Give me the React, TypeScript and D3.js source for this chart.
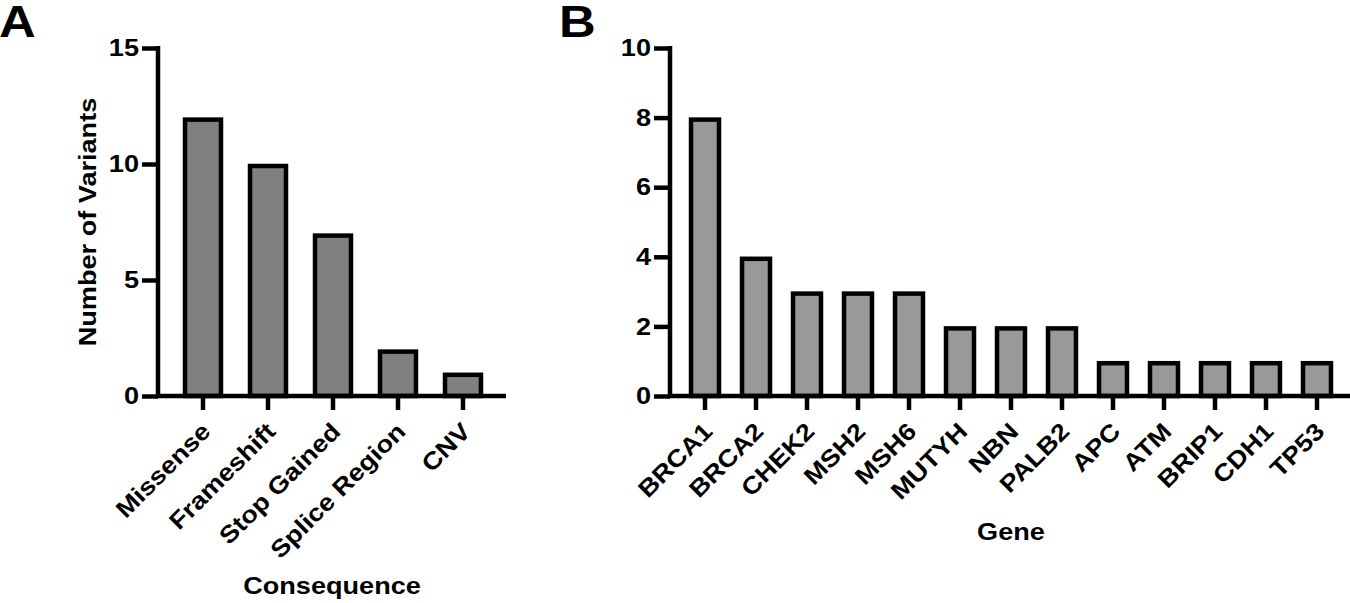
import { useEffect, useRef } from "react";
import * as d3 from "d3";

const consequences = ["Missense", "Frameshift", "Stop Gained", "Splice Region", "CNV"];
const consequenceCounts = [12, 10, 7, 2, 1];

const genes = ["BRCA1", "BRCA2", "CHEK2", "MSH2", "MSH6", "MUTYH", "NBN", "PALB2", "APC", "ATM", "BRIP1", "CDH1", "TP53"];
const geneCounts = [8, 4, 3, 3, 3, 2, 2, 2, 1, 1, 1, 1, 1];

const yTicksA = [0, 5, 10, 15];
const yTicksB = [0, 2, 4, 6, 8, 10];

const FONT = "'Liberation Sans', Arial, Helvetica, sans-serif";
// the original type is a little wider than Arial
const STRETCH = "scale(1.13,1)";

export default function App() {
  const svgRef = useRef<SVGSVGElement>(null);

  useEffect(() => {
    document.body.style.margin = "0";
    if (!svgRef.current) return;
    const svg = d3.select(svgRef.current);
    svg.selectAll("*").remove();

    const top = 48;
    const bottom = 396;

    const drawPanel = (
      labels: string[],
      values: number[],
      yMax: number,
      yTicks: number[],
      x0: number,
      x1: number,
      axisEnd: number,
      pad: number,
      fill: string,
      letter: string,
      letterX: number,
      xTitle: string,
      xTitleX: number,
      xTitleY: number,
      yTitle?: string
    ) => {
      const g = svg.append("g");
      const x = d3.scaleBand<string>().domain(labels).range([x0, x1]).paddingInner(pad).paddingOuter(pad);
      const y = d3.scaleLinear().domain([0, yMax]).range([bottom, top]);

      // bars
      g.selectAll("rect.bar")
        .data(labels)
        .join("rect")
        .attr("class", "bar")
        .attr("x", d => x(d)! + 2)
        .attr("width", x.bandwidth() - 4)
        .attr("y", (d, i) => y(values[i]) + 2)
        .attr("height", (d, i) => y(0) - y(values[i]) - 2)
        .attr("fill", fill)
        .attr("stroke", "#000")
        .attr("stroke-width", 4.5);

      // y axis
      const ya = g.append("g")
        .attr("transform", `translate(${x0},0)`)
        .call(d3.axisLeft(y).tickValues(yTicks).tickSize(16).tickPadding(4).tickSizeOuter(0));
      ya.select(".domain").attr("stroke-width", 4.5).attr("d", `M0,${top - 2}V${bottom}`);
      ya.selectAll(".tick line").attr("stroke-width", 4.5);
      ya.selectAll(".tick text")
        .attr("font-family", FONT)
        .attr("font-weight", "bold")
        .attr("font-size", 24)
        .attr("fill", "#000")
        .attr("x", 0)
        .attr("transform", `translate(-19,0) ${STRETCH}`);

      // x axis
      const xa = g.append("g")
        .attr("transform", `translate(0,${bottom})`)
        .call(d3.axisBottom(x).tickSize(14).tickSizeOuter(0));
      xa.select(".domain").attr("stroke-width", 4.5).attr("d", `M${x0 - 2},0H${axisEnd}`);
      xa.selectAll(".tick line").attr("stroke-width", 4.5);
      xa.selectAll(".tick text")
        .attr("font-family", FONT)
        .attr("font-weight", "bold")
        .attr("font-size", 24)
        .attr("fill", "#000")
        .attr("text-anchor", "end")
        .attr("y", 0)
        .attr("dy", "0.35em")
        .attr("transform", `translate(3,31) rotate(-45) ${STRETCH}`);

      // panel letter
      svg.append("text")
        .attr("transform", `translate(${letterX},37) ${STRETCH}`)
        .attr("font-family", FONT)
        .attr("font-weight", "bold")
        .attr("font-size", 45)
        .text(letter);

      svg.append("text")
        .attr("transform", `translate(${xTitleX},${xTitleY}) ${STRETCH}`)
        .attr("text-anchor", "middle")
        .attr("font-family", FONT)
        .attr("font-weight", "bold")
        .attr("font-size", 24)
        .text(xTitle);

      if (yTitle) {
        svg.append("text")
          .attr("transform", `translate(96,${(top + bottom) / 2}) rotate(-90) ${STRETCH}`)
          .attr("text-anchor", "middle")
          .attr("font-family", FONT)
          .attr("font-weight", "bold")
          .attr("font-size", 24)
          .text(yTitle);
      }
    };

    drawPanel(consequences, consequenceCounts, 15, yTicksA, 158, 508, 506, 0.385, "#808080", "A", -1,
      "Consequence", 332, 594, "Number of Variants");
    drawPanel(genes, geneCounts, 10, yTicksB, 670, 1352, 1350, 0.373, "#999999", "B", 559,
      "Gene", 1011, 540);
  }, []);

  return <svg ref={svgRef} width={1350} height={603} style={{ display: "block", background: "#fff" }} />;
}
